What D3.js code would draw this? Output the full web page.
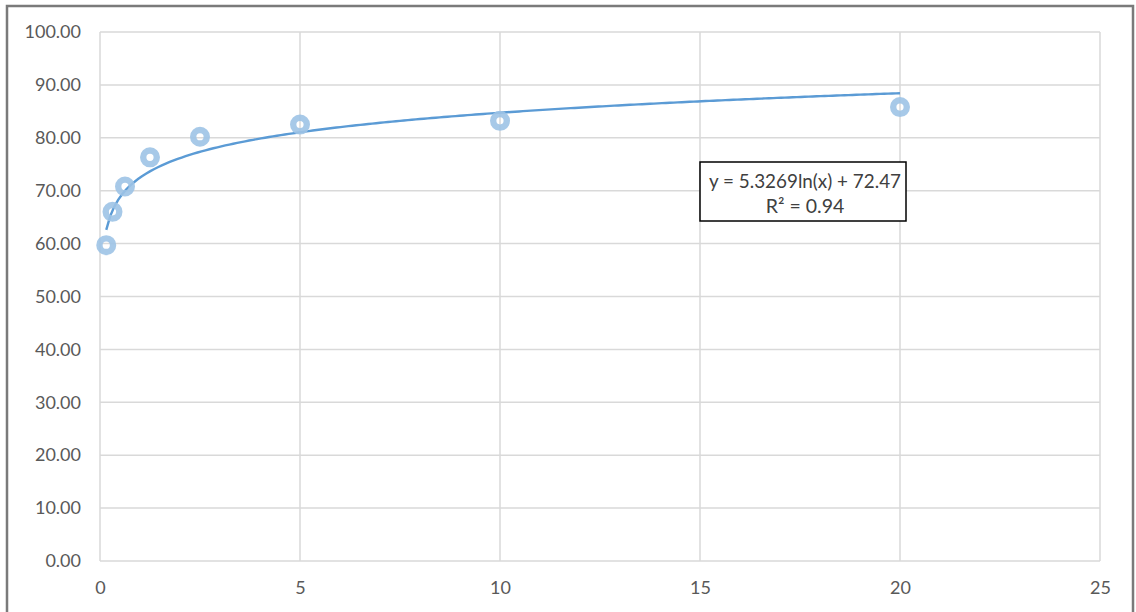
<!DOCTYPE html>
<html><head><meta charset="utf-8">
<script src="https://cdn.jsdelivr.net/npm/d3@7"></script>
<style>
html,body{margin:0;padding:0;background:#fff;}
svg{display:block;}
</style></head>
<body>
<script>
const xValues = [0.15625, 0.3125, 0.625, 1.25, 2.5, 5, 10, 20];
const yValues = [59.7, 66.0, 70.8, 76.3, 80.2, 82.5, 83.2, 85.8];
const xTicks = [0, 5, 10, 15, 20, 25];
const yTicks = [0, 10, 20, 30, 40, 50, 60, 70, 80, 90, 100];
const trendA = 5.3269, trendB = 72.47;
const trendLabel = ["y = 5.3269ln(x) + 72.47", "R² = 0.94"];

const W = 1136, H = 612;
const svg = d3.select("body").append("svg").attr("width", W).attr("height", H);
const font = "Lato, 'Open Sans', sans-serif";

// outer frame
svg.append("rect").attr("x", 7).attr("y", 6).attr("width", 1126).attr("height", 640)
  .attr("fill", "#fff").attr("stroke", "#7a7a7a").attr("stroke-width", 2.5);

const x = d3.scaleLinear().domain([0, 25]).range([100, 1100]);
const y = d3.scaleLinear().domain([0, 100]).range([561, 32]);

// gridlines
svg.append("g").selectAll("line").data(yTicks).join("line")
  .attr("x1", x(0)).attr("x2", x(25)).attr("y1", d => y(d)).attr("y2", d => y(d))
  .attr("stroke", "#d9d9d9").attr("stroke-width", 1.5);
svg.append("g").selectAll("line").data(xTicks).join("line")
  .attr("y1", y(0)).attr("y2", y(100)).attr("x1", d => x(d)).attr("x2", d => x(d))
  .attr("stroke", "#d9d9d9").attr("stroke-width", 1.5);

// axes labels
const yAxis = d3.axisLeft(y).tickValues(yTicks).tickFormat(d3.format(".2f")).tickSize(0).tickPadding(19);
const gy = svg.append("g").attr("transform", `translate(${x(0)},0)`).call(yAxis);
gy.select(".domain").remove();
gy.selectAll("text").attr("fill", "#595959").style("font-family", font).style("font-size", "18px");

const xAxis = d3.axisBottom(x).tickValues(xTicks).tickFormat(d3.format("d")).tickSize(0).tickPadding(20);
const gx = svg.append("g").attr("transform", `translate(0,${y(0)})`).call(xAxis);
gx.select(".domain").remove();
gx.selectAll("text").attr("fill", "#595959").style("font-family", font).style("font-size", "18px");

// trendline
const tx = d3.range(0, 201).map(i => xValues[0] + (xValues[xValues.length-1] - xValues[0]) * i / 200);
const line = d3.line().x(d => x(d)).y(d => y(trendA * Math.log(d) + trendB));
svg.append("path").datum(tx).attr("d", line).attr("fill", "none")
  .attr("stroke", "#5b9bd5").attr("stroke-width", 2.4);

// markers
const pts = xValues.map((v, i) => [v, yValues[i]]);
svg.append("g").selectAll("circle").data(pts).join("circle")
  .attr("cx", d => x(d[0])).attr("cy", d => y(d[1])).attr("r", 6.8)
  .attr("fill", "none").attr("stroke", "#9dc3e6").attr("stroke-width", 6.4).attr("stroke-opacity", 0.9);

// trend label
const lb = svg.append("g");
lb.append("rect").attr("x", 700).attr("y", 162).attr("width", 206).attr("height", 59)
  .attr("fill", "#fff").attr("stroke", "#000").attr("stroke-width", 1.5);
lb.selectAll("text").data(trendLabel).join("text")
  .attr("x", 805).attr("y", (d, i) => 188 + i * 25).attr("text-anchor", "middle")
  .attr("fill", "#404040").style("font-family", font).style("font-size", "19.5px")
  .attr("textLength", (d, i) => i === 0 ? 192 : null).attr("lengthAdjust", "spacingAndGlyphs")
  .text(d => d);
</script>
</body></html>
